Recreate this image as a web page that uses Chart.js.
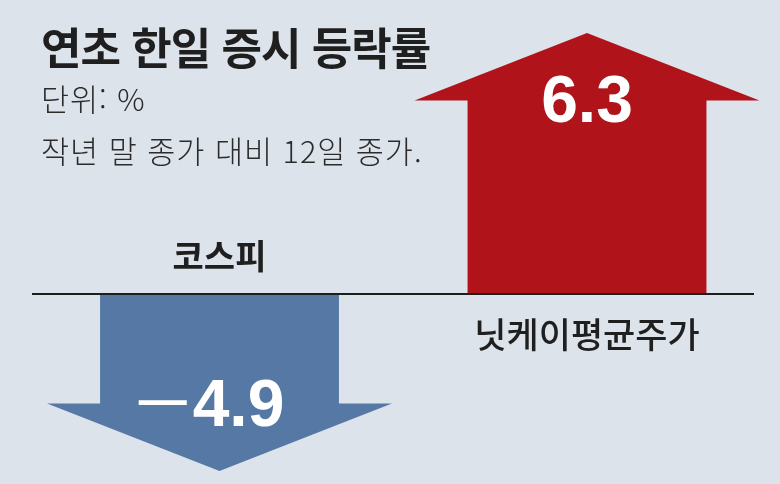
<!DOCTYPE html>
<html lang="ko">
<head>
<meta charset="utf-8">
<script src="https://cdn.jsdelivr.net/npm/chart.js@4/dist/chart.umd.min.js"></script>
<style>
  html, body { margin: 0; padding: 0; background: #dce3eb; }
  #wrap { position: relative; width: 780px; height: 484px; overflow: hidden; background: #dce3eb; }
  #c { position: absolute; left: 0; top: 0; }
  .t { position: absolute; white-space: nowrap; font-family: "Noto Sans CJK KR", "Noto Sans", sans-serif; line-height: 1; color: #1f1f1f; }
  #title { left: 41px; top: 24px; font-size: 44px; font-weight: 700; letter-spacing: -1px; }
  #sub1 { left: 41px; top: 83px; font-size: 30.5px; font-weight: 300; color: #2b2b2b; letter-spacing: 1px; }
  #sub2 { left: 41px; top: 135px; font-size: 30.5px; font-weight: 300; color: #2b2b2b; letter-spacing: 1px; }
</style>
</head>
<body>
<div id="wrap">
  <canvas id="c" width="780" height="484"></canvas>
  <div class="t" id="title"></div>
  <div class="t" id="sub1"></div>
  <div class="t" id="sub2"></div>
</div>
<script>
// ---- data ----
const titleText = '연초 한일 증시 등락률';
const subtitleLines = ['단위: %', '작년 말 종가 대비 12일 종가.'];
const categories = ['코스피', '닛케이평균주가'];
const kospiValues = [-4.9, null];
const nikkeiValues = [null, 6.3];

document.getElementById('title').textContent = titleText;
document.getElementById('sub1').textContent = subtitleLines[0];
document.getElementById('sub2').textContent = subtitleLines[1];

const BLUE = '#5578a4';
const RED = '#b0141a';

const arrowPlugin = {
  id: 'arrowPlugin',
  beforeDraw(chart) {
    const ctx = chart.ctx;
    ctx.save();
    ctx.fillStyle = '#dce3eb';
    ctx.fillRect(0, 0, chart.width, chart.height);
    ctx.restore();
  },
  afterDatasetsDraw(chart) {
    const ctx = chart.ctx;
    ctx.save();
    chart.data.datasets.forEach((ds, di) => {
      const meta = chart.getDatasetMeta(di);
      meta.data.forEach((el, i) => {
        const v = ds.data[i];
        if (v === null || v === undefined) return;
        const p = el.getProps(['x', 'y', 'base', 'width'], true);
        const dir = p.y > p.base ? 1 : -1;
        const hw = p.width / 2 + 53;
        const hh = 67;
        // arrow head
        ctx.fillStyle = ds.backgroundColor;
        ctx.beginPath();
        ctx.moveTo(p.x - hw, p.y - dir * 0.5);
        ctx.lineTo(p.x + hw, p.y - dir * 0.5);
        ctx.lineTo(p.x, p.y + dir * hh);
        ctx.closePath();
        ctx.fill();

        // value label
        ctx.fillStyle = '#ffffff';
        ctx.textBaseline = 'alphabetic';
        const numText = Math.abs(v).toFixed(1);
        const numFont = 'bold 66px "Liberation Sans", Arial, sans-serif';
        const baseY = p.y + 22;
        if (v < 0) {
          ctx.font = numFont;
          const nw = ctx.measureText(numText).width;
          ctx.font = 'bold 48px "Liberation Sans", Arial, sans-serif';
          const dw = ctx.measureText('—').width;
          const gap = 6;
          const total = dw + gap + nw;
          const sx = p.x - 8 - total / 2;
          ctx.textAlign = 'left';
          ctx.fillText('—', sx, baseY - 10);
          ctx.font = numFont;
          ctx.fillText(numText, sx + dw + gap, baseY);
        } else {
          ctx.font = numFont;
          ctx.textAlign = 'center';
          ctx.fillText(numText, p.x, baseY);
        }

        // category label
        ctx.fillStyle = '#1f1f1f';
        ctx.textAlign = 'center';
        ctx.textBaseline = 'middle';
        if (v < 0) {
          ctx.font = 'bold 34px "Noto Sans CJK KR", sans-serif';
          ctx.fillText(chart.data.labels[i], p.x, p.base - 38);
        } else {
          ctx.font = '500 35px "Noto Sans CJK KR", sans-serif';
          ctx.fillText(chart.data.labels[i], p.x, p.base + 41);
        }
      });
    });
    // baseline
    const y0 = chart.scales.y.getPixelForValue(0);
    ctx.strokeStyle = '#1e1e1e';
    ctx.lineWidth = 2;
    ctx.beginPath();
    ctx.moveTo(32, y0);
    ctx.lineTo(754, y0);
    ctx.stroke();
    ctx.restore();
  }
};

new Chart(document.getElementById('c'), {
  type: 'bar',
  data: {
    labels: categories,
    datasets: [
      { label: categories[0], data: kospiValues, backgroundColor: BLUE, yAxisID: 'y', grouped: false, borderWidth: 0 },
      { label: categories[1], data: nikkeiValues, backgroundColor: RED, yAxisID: 'y2', grouped: false, borderWidth: 0 }
    ]
  },
  options: {
    responsive: false,
    animation: false,
    devicePixelRatio: 1,
    layout: { padding: { left: 35.75, right: 9.25, top: 0, bottom: 0 } },
    plugins: { legend: { display: false }, title: { display: false }, tooltip: { enabled: false } },
    datasets: { bar: { categoryPercentage: 1, barPercentage: 0.65 } },
    scales: {
      x: { display: false, offset: true },
      y: { display: false, min: -8.464, max: 13.096 },
      y2: { display: false, min: -6.170, max: 9.547 }
    }
  },
  plugins: [arrowPlugin]
});
</script>
</body>
</html>
